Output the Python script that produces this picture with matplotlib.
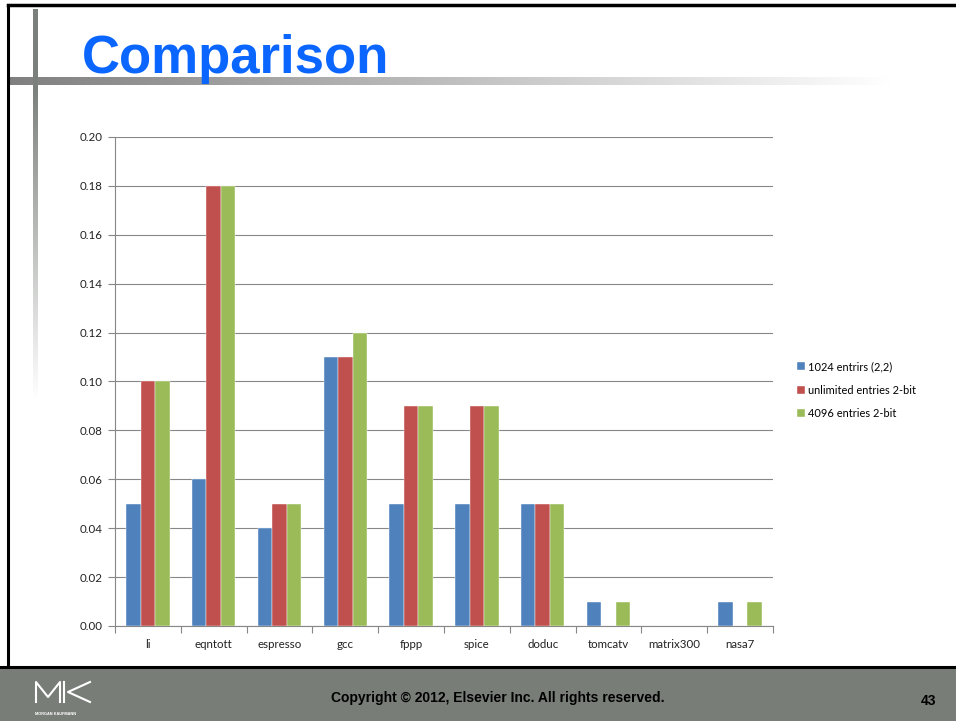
import numpy as np
import matplotlib
matplotlib.use("Agg")
import matplotlib.pyplot as plt
from matplotlib.patches import Rectangle

# Data
categories = ["li", "eqntott", "espresso", "gcc", "fppp", "spice",
              "doduc", "tomcatv", "matrix300", "nasa7"]
entries_1024 = [0.05, 0.06, 0.04, 0.11, 0.05, 0.05, 0.05, 0.01, 0.00, 0.01]
unlimited_2bit = [0.10, 0.18, 0.05, 0.11, 0.09, 0.09, 0.05, 0.00, 0.00, 0.00]
entries_4096 = [0.10, 0.18, 0.05, 0.12, 0.09, 0.09, 0.05, 0.01, 0.00, 0.01]
series_labels = ["1024 entrirs (2,2)", "unlimited entries 2-bit", "4096 entries 2-bit"]
yticks = [0.00, 0.02, 0.04, 0.06, 0.08, 0.10, 0.12, 0.14, 0.16, 0.18, 0.20]

W, H = 956, 721
fig = plt.figure(figsize=(W / 100, H / 100), dpi=100)

# Slide background layer in pixel coordinates
bg = fig.add_axes([0, 0, 1, 1], zorder=0)
bg.set_xlim(0, W)
bg.set_ylim(H, 0)
bg.axis("off")

# gradient rule under the title (mid grey -> white)
t = np.linspace(0, 1, 256)
g = 0.5 + 0.5 * t
hrule = np.dstack([g, g, g]).reshape(1, 256, 3)
bg.imshow(hrule, aspect="auto", extent=(10, 892, 85, 77), interpolation="bilinear")
# vertical bar, solid at the top and fading downwards
tv = np.concatenate([np.zeros(25), np.linspace(0, 1, 100)])
gv = 0.49 + 0.51 * tv
vbar = np.stack([gv, gv + 0.015 * (1 - tv), gv], axis=1).reshape(-1, 1, 3)
bg.imshow(np.clip(vbar, 0, 1), aspect="auto", extent=(33, 38, 400, 9),
          interpolation="bilinear")

# slide frame
bg.plot([8, 8], [5, 667], color="black", lw=2.2)
bg.plot([8, W], [5, 5], color="black", lw=2.5)

# footer
bg.add_patch(Rectangle((0, 668), W, H - 668, color="#787d78", zorder=1))
bg.plot([0, W], [667, 667], color="black", lw=2.2, zorder=2)

# MK logo
bg.plot([36, 36, 48, 60, 60], [702, 682, 697, 682, 702], color="white", lw=1.5, zorder=3)
bg.plot([64, 64], [682, 702], color="white", lw=1.5, zorder=3)
bg.plot([90, 68, 90], [682, 692, 702], color="white", lw=1.5, zorder=3)
bg.text(35, 714, "MORGAN KAUFMANN", fontsize=2.8, color="white", fontweight="bold",
        family="Liberation Sans", va="center", zorder=3)

bg.text(498, 698, "Copyright \u00a9 2012, Elsevier Inc. All rights reserved.",
        fontsize=10, fontweight="bold", family="Liberation Sans",
        ha="center", va="center", color="black", zorder=3)
bg.text(929, 701, "43", fontsize=10, fontweight="bold", family="Liberation Sans",
        ha="center", va="center", color="black", zorder=3)

# title
bg.text(82, 73, "Comparison", fontsize=38, fontweight="bold", family="Liberation Sans",
        color="#0a66ff", ha="left", va="baseline", zorder=3)

# Chart
ax = fig.add_axes([115 / W, 1 - 626 / H, 658 / W, 489 / H], zorder=2)
ax.patch.set_alpha(0)
x = np.arange(len(categories))
bw = 0.22
colors = ["#4f81bd", "#c0504d", "#9bbb59"]
for i, (vals, lab, c) in enumerate(zip([entries_1024, unlimited_2bit, entries_4096],
                                       series_labels, colors)):
    ax.bar(x + (i - 1) * bw, vals, width=bw, color=c, label=lab,
           edgecolor="white", linewidth=0.3, zorder=3)

ax.set_xlim(-0.5, len(categories) - 0.5)
ax.set_ylim(0, 0.20)
ax.set_yticks(yticks)
ax.set_yticklabels([f"{v:.2f}" for v in yticks])
ax.yaxis.grid(True, color="#878787", lw=0.8, zorder=0)
ax.set_xticks(x)
ax.set_xticklabels(categories)
ax.set_xticks(np.arange(len(categories) + 1) - 0.5, minor=True)
ax.tick_params(axis="x", which="major", length=0, pad=9)
ax.tick_params(axis="x", which="minor", length=5, color="#878787", width=0.8)
ax.tick_params(axis="y", length=5, color="#878787", width=0.8, pad=4)
for lbl in ax.get_xticklabels() + ax.get_yticklabels():
    lbl.set_fontsize(8.3)
    lbl.set_family("Lato")
    lbl.set_color("#222222")
for s in ["top", "right"]:
    ax.spines[s].set_visible(False)
for s in ["left", "bottom"]:
    ax.spines[s].set_color("#878787")
    ax.spines[s].set_linewidth(0.8)

ax.legend(loc="center left", bbox_to_anchor=(787 / W, 1 - 390 / H),
          bbox_transform=fig.transFigure, frameon=False,
          prop={"family": "Lato", "size": 7.9}, handlelength=0.7, handleheight=0.7,
          handletextpad=0.3, labelspacing=1.15)

fig.savefig("out.png", dpi=100)
